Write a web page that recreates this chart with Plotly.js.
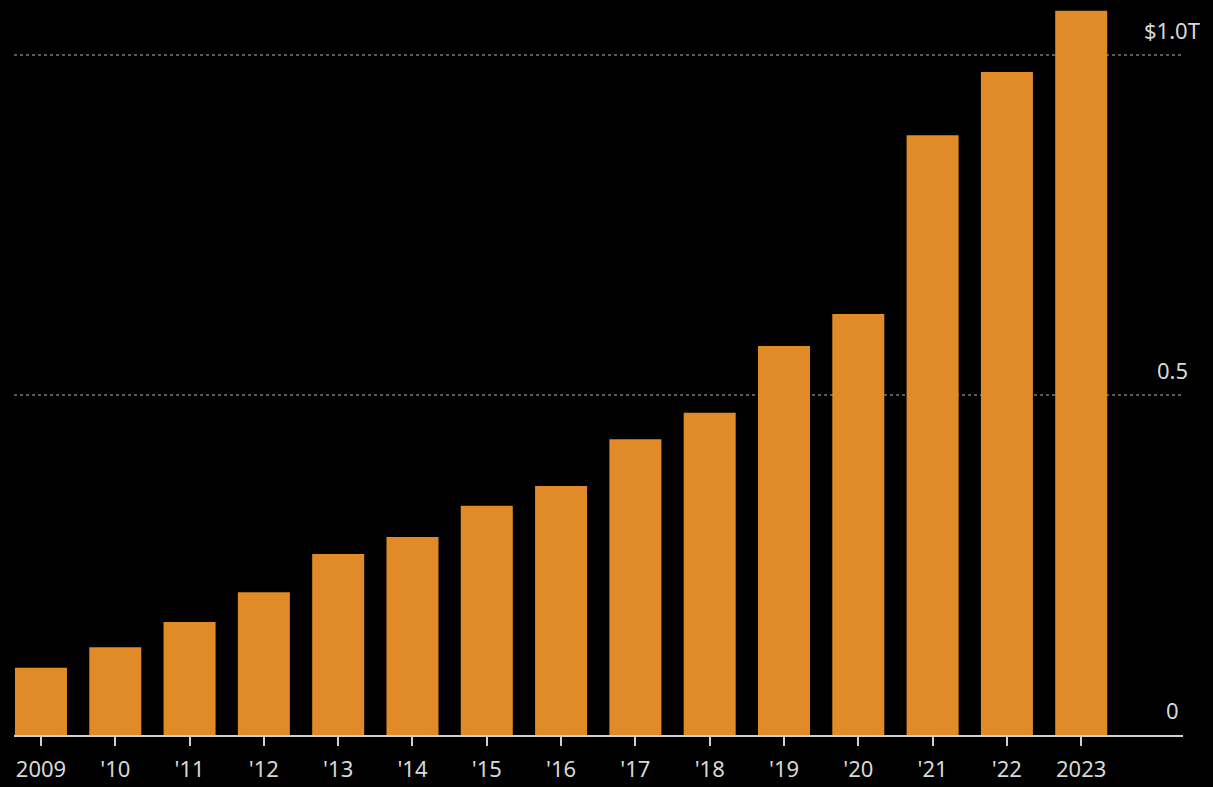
<!DOCTYPE html>
<html><head><meta charset="utf-8">
<script src="https://cdn.plot.ly/plotly-3.0.1.min.js"></script>
<style>html,body{margin:0;padding:0;background:#000;}#chart{width:1213px;height:787px;}</style>
</head><body><div id="chart"></div>
<script>
const years = ['2009','2010','2011','2012','2013','2014','2015','2016','2017','2018','2019','2020','2021','2022','2023'];
const tickLabels = ['2009',"'10","'11","'12","'13","'14","'15","'16","'17","'18","'19","'20","'21","'22",'2023'];
const values = [0.099,0.129,0.166,0.210,0.266,0.291,0.337,0.366,0.435,0.474,0.572,0.619,0.882,0.975,1.065];
const yTickVals = [0, 0.5, 1.0];
const yTickText = ['0', '0.5', '$1.0T'];

const fontFam = '"Noto Sans", "Open Sans", sans-serif';
const trace = {
  type: 'bar', x: years, y: values,
  marker: {color: '#E08B27', line: {width: 0}},
  hoverinfo: 'x+y'
};
const annotations = yTickVals.map((v, i) => ({
  xref: 'paper', yref: 'y', x: 0.9906, y: v, yshift: 25,
  text: yTickText[i], showarrow: false, xanchor: 'center', yanchor: 'middle',
  font: {family: fontFam, size: 22, color: '#d8d8d8'}
}));
const layout = {
  width: 1213, height: 787,
  paper_bgcolor: '#000', plot_bgcolor: '#000',
  margin: {l: 14, r: 30, t: 5, b: 52},
  bargap: 0.3,
  showlegend: false,
  xaxis: {
    type: 'category', range: [-0.363, 15.37],
    tickvals: years, ticktext: tickLabels,
    ticks: 'outside', ticklen: 9, tickwidth: 2, tickcolor: '#cfcfcf',
    ticklabelstandoff: 5,
    showline: true, linecolor: '#cfcfcf', linewidth: 2,
    showgrid: false, zeroline: false,
    tickfont: {family: fontFam, size: 22, color: '#d8d8d8'}
  },
  yaxis: {
    range: [0, 1.0735],
    tickvals: yTickVals, showticklabels: false,
    showgrid: true, gridcolor: '#5a5a5a', griddash: 'dot', gridwidth: 1.5,
    zeroline: false, fixedrange: true
  },
  annotations: annotations
};
Plotly.newPlot('chart', [trace], layout, {displayModeBar: false, staticPlot: true});
</script></body></html>
